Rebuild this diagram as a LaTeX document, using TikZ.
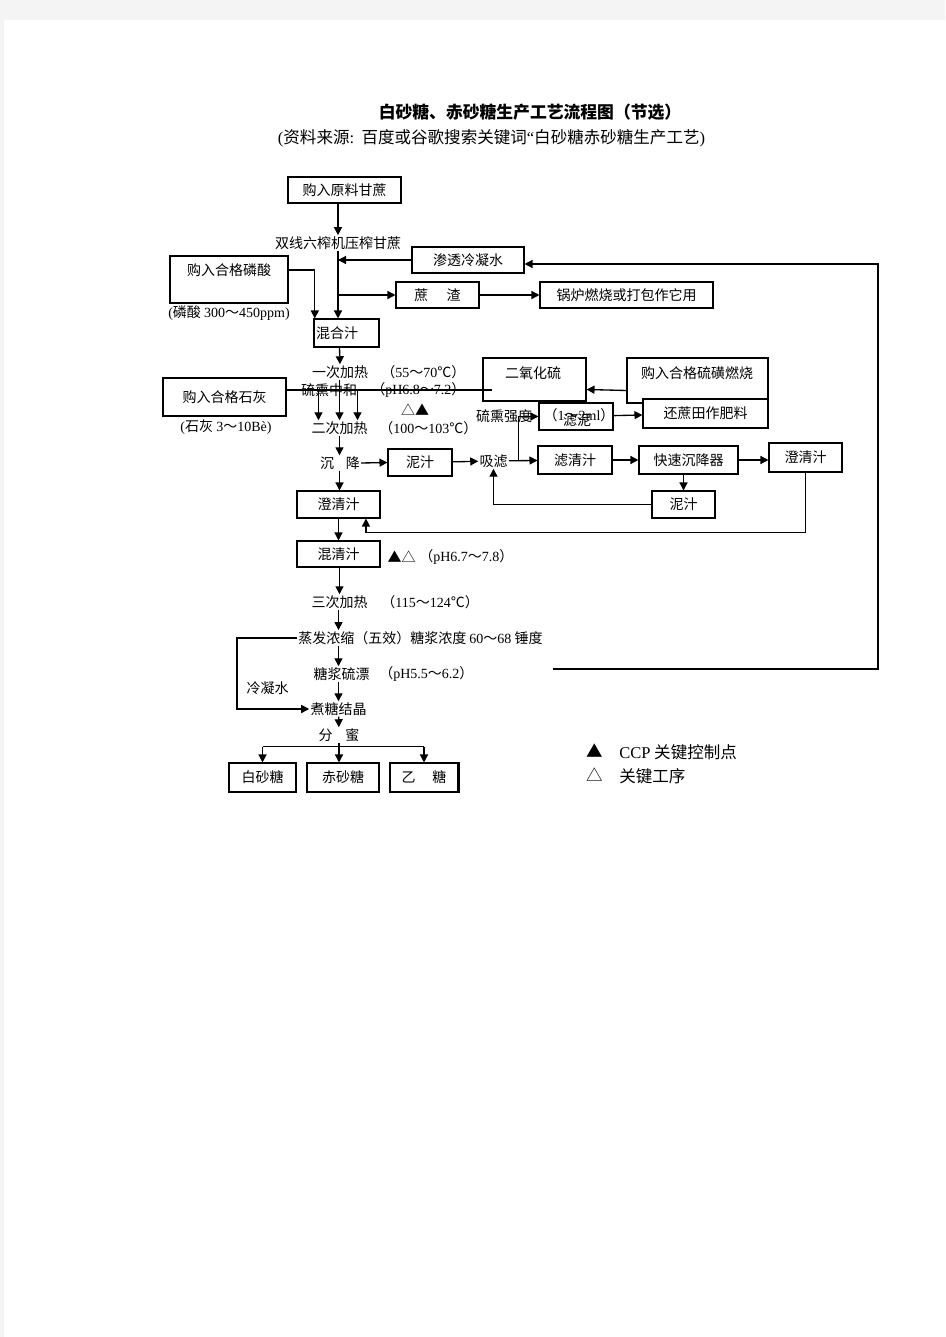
\documentclass[tikz,border=0pt]{standalone}
\usepackage{fontspec}
\setmainfont{Noto Sans CJK SC}
\newfontfamily\numf{Liberation Serif}
\usetikzlibrary{arrows.meta}

\definecolor{pagebg}{HTML}{F4F4F4}

\tikzset{
  box/.style n args={2}{draw, line width=0.8pt, minimum width=#1*0.75pt, minimum height=#2*0.75pt, inner sep=0pt},
  lbl/.style={inner sep=0.75pt},
  ln/.style={line width=1pt},
  arr/.style={ln, -{Triangle[length=6pt,width=6pt]}},
}

\begin{document}
\begin{tikzpicture}[x=0.75pt,y=0.75pt,yscale=-1,xscale=1,font=\fontsize{10.5}{12}\selectfont]
        \useasboundingbox (0,0) rectangle (945,1337);
        \fill[pagebg] (0,0) rectangle (945,1337);
        \fill[white] (4,20) rectangle (945,1337);

        % title
        \node[lbl, font=\fontsize{12.6}{14}\selectfont\bfseries] (title) at (530,112) {白砂糖、赤砂糖生产工艺流程图（节选）};
        \node[lbl, font=\fontsize{12.4}{14}\selectfont] (source) at (491.5,138) {{\numf (}资料来源{\numf :}\ \ 百度或谷歌搜索关键词{\numf “}白砂糖赤砂糖生产工艺{\numf )}};

        % pressing
        \node[box={113}{26}] (cane) at (344.5,190) {购入原料甘蔗};
        \node[lbl] (press) at (338,243) {双线六榨机压榨甘蔗};
        \node[box={112}{26}] (seep) at (468,260) {渗透冷凝水};
        \node[box={118}{47}] (acid) at (229,279.5) {};
        \node[lbl] (acidtx) at (229,270) {购入合格磷酸};
        \node[lbl] (acidnote) at (229,313) {{\numf (}磷酸 {\numf 300}～{\numf 450ppm)}};
        \node[box={83}{26}] (bag) at (437.5,295) {蔗\hspace{1.3em}渣};
        \node[box={173}{26}] (boiler) at (626.5,295) {锅炉燃烧或打包作它用};
        \node[box={65}{28}] (mix) at (346.5,333) {};
        \node[lbl] (mixtx) at (337,333) {混合汁};

        % heating and sulphitation
        \node[lbl] (heat1) at (340,372) {一次加热};
        \node[lbl, anchor=west] (heat1t) at (380,372) {（{\numf 55}～{\numf 70}℃）};
        \node[lbl] (neutral) at (329,390) {硫熏中和};
        \node[lbl, anchor=west] (neutralt) at (370,390) {（{\numf pH6.8}～{\numf 7.2}）};
        \node[lbl] (tri1) at (415,410) {△▲};
        \node[lbl] (heat2) at (339.5,428) {二次加热};
        \node[lbl, anchor=west] (heat2t) at (378,428) {（{\numf 100}～{\numf 103}℃）};
        \node[box={123}{38}] (lime) at (224.5,397) {购入合格石灰};
        \node[lbl] (limenote) at (226,427) {{\numf (}石灰 {\numf 3}～{\numf 10Bè)}};
        \node[box={103}{43}] (so2) at (534.5,379.5) {};
        \node[lbl] (so2tx) at (533,373) {二氧化硫};
        \node[box={141}{45}] (sulfur) at (697.5,380.5) {};
        \node[lbl] (sulfurtx) at (697,373) {购入合格硫磺燃烧};
        \node[box={125}{29}, fill=white] (fert) at (705.5,413.5) {还蔗田作肥料};
        \node[lbl] (strength) at (504,416) {硫熏强度};
        \node[box={74}{27}] (mud1) at (576,416.5) {};
        \node[lbl] (mud1tx) at (577,420) {滤泥};
        \node[lbl] (mlnote) at (579,415) {（{\numf 1}～{\numf 2ml}）};

        % clarification
        \node[lbl] (settle) at (340,463) {沉\hspace{0.85em}降};
        \node[box={64}{27}] (mud0) at (420,462.5) {泥汁};
        \node[lbl] (suction) at (493.5,461) {吸滤};
        \node[box={74}{28}] (clearf) at (575,460) {滤清汁};
        \node[box={99}{28}] (settler) at (688.5,460) {快速沉降器};
        \node[box={73}{29}] (clear2) at (805.5,457.5) {澄清汁};
        \node[box={63}{27}] (mud2) at (683.5,504.5) {泥汁};
        \node[box={83}{27}] (clear1) at (338.5,504.5) {澄清汁};
        \node[box={83}{26}] (cloudy) at (338.5,554) {混清汁};
        \node[lbl] (tri2) at (401.5,557) {▲△};
        \node[lbl, anchor=west] (cloudyt) at (418,557) {（{\numf pH6.7}～{\numf 7.8}）};

        % evaporation and boiling
        \node[lbl] (heat3) at (339.5,602) {三次加热};
        \node[lbl, anchor=west] (heat3t) at (380,602) {（{\numf 115}～{\numf 124}℃）};
        \node[lbl, anchor=west] (evap) at (297,638) {蒸发浓缩（五效）糖浆浓度 {\numf 60}～{\numf 68} 锤度};
        \node[lbl] (bleach) at (341.5,674) {糖浆硫漂};
        \node[lbl, anchor=west] (bleacht) at (378,674) {（{\numf pH5.5}～{\numf 6.2}）};
        \node[lbl] (cond) at (267.5,688) {冷凝水};
        \node[lbl] (cryst) at (338.5,709) {煮糖结晶};
        \node[lbl] (centri) at (339,735) {分\hspace{0.9em}蜜};
        \node[box={67}{29}] (white) at (262.5,777.5) {白砂糖};
        \node[box={72}{29}] (brown) at (343,777.5) {赤砂糖};
        \node[box={68}{29}] (second) at (424,777.5) {乙\hspace{1.2em}糖};
        \draw[line width=1.6pt] (second.north east) -- (second.south east);

        % legend
        \node[lbl, font=\fontsize{12.4}{14}\selectfont] (ccpmk) at (594.5,751) {▲};
        \node[lbl, anchor=west, font=\fontsize{12.4}{14}\selectfont] (ccptx) at (618,752) {{\numf CCP} 关键控制点};
        \node[lbl, font=\fontsize{12.4}{14}\selectfont] (keymk) at (594.5,775) {△};
        \node[lbl, anchor=west, font=\fontsize{12.4}{14}\selectfont] (keytx) at (618,776) {关键工序};

        % connectors
        \draw[arr] (cane.south -| press) -- (press.north);
        \draw[arr] (press.south) -- (press.south |- mix.north);
        \draw[arr] (seep.west) -- (seep.west -| press.south);
        \draw[arr] (press.south |- bag.west) -- (bag.west);
        \draw[arr] (bag) -- (boiler);
        \draw[arr] (acid.east |- acidtx) -| ([xshift=1pt]mix.north west);
        \coordinate (fbstart) at (553,669);
        \coordinate (fbright) at (878,669);
        \draw[arr] (fbstart) -- (fbright) |- ([yshift=3pt]seep.east);

        \draw[arr] (mix.south -| heat2) -- (heat1.north);
        \draw[ln] (lime.east |- neutral) -- ([xshift=7.5pt]so2.west |- neutral);
        \draw[arr] (heat1.south -| heat2) -- (heat2.north);
        \foreach \dx in {-21,18}
          \draw[arr] ([xshift=\dx*0.75pt]heat2.north |- neutral) -- ([xshift=\dx*0.75pt]heat2.north);
        \draw[arr] ([yshift=7.5pt]sulfur.west) -- ([yshift=7.5pt]so2.east);
        \draw[arr] (heat2.south) -- (heat2.south |- settle.north);
        \draw[arr] (settle.south -| heat2) -- (clear1.north -| heat2);
        \draw[arr] (settle.east) -- (mud0.west);
        \draw[arr] (mud0) -- (suction);
        \draw[arr] (suction) -- (clearf);
        \path (suction.east) ++(10,0) coordinate (sj);
        \draw[arr] (sj) |- (mud1.west);
        \draw[arr] (mud1) -- (fert);
        \draw[arr] (clearf) -- (settler);
        \draw[arr] (settler.east) -- (settler.east -| clear2.west);
        \draw[arr] (mud2.north |- settler.south) -- (mud2.north);
        \draw[arr] (mud2.west) -| (suction.south);
        \draw[arr] (clear2.south) -- ++(0,60) -| ([xshift=20.6pt]clear1.south);
        \draw[arr] (clear1) -- (cloudy);
        \draw[arr] (cloudy.south -| heat2) -- (heat3.north -| heat2);
        \draw[arr] (heat3.south -| cryst) -- (evap.north -| cryst);
        \draw[arr] (evap.south -| cryst) -- (bleach.north -| cryst);
        \draw[arr] (bleach.south -| cryst) -- (cryst.north);
        \draw[arr] (evap.west) -- ++(-60,0) |- (cryst.west);
        \draw[arr] (cryst) -- (centri);
        \path (centri.south) ++(0,4) coordinate (sp);
        \draw[ln] (sp -| white.north) -- (sp -| second.north);
        \draw[arr] (sp -| white.north) -- (white.north);
        \draw[arr] (centri.south) -- (centri.south |- brown.north);
        \draw[arr] (sp -| second.north) -- (second.north);

    \end{tikzpicture}
\end{document}
